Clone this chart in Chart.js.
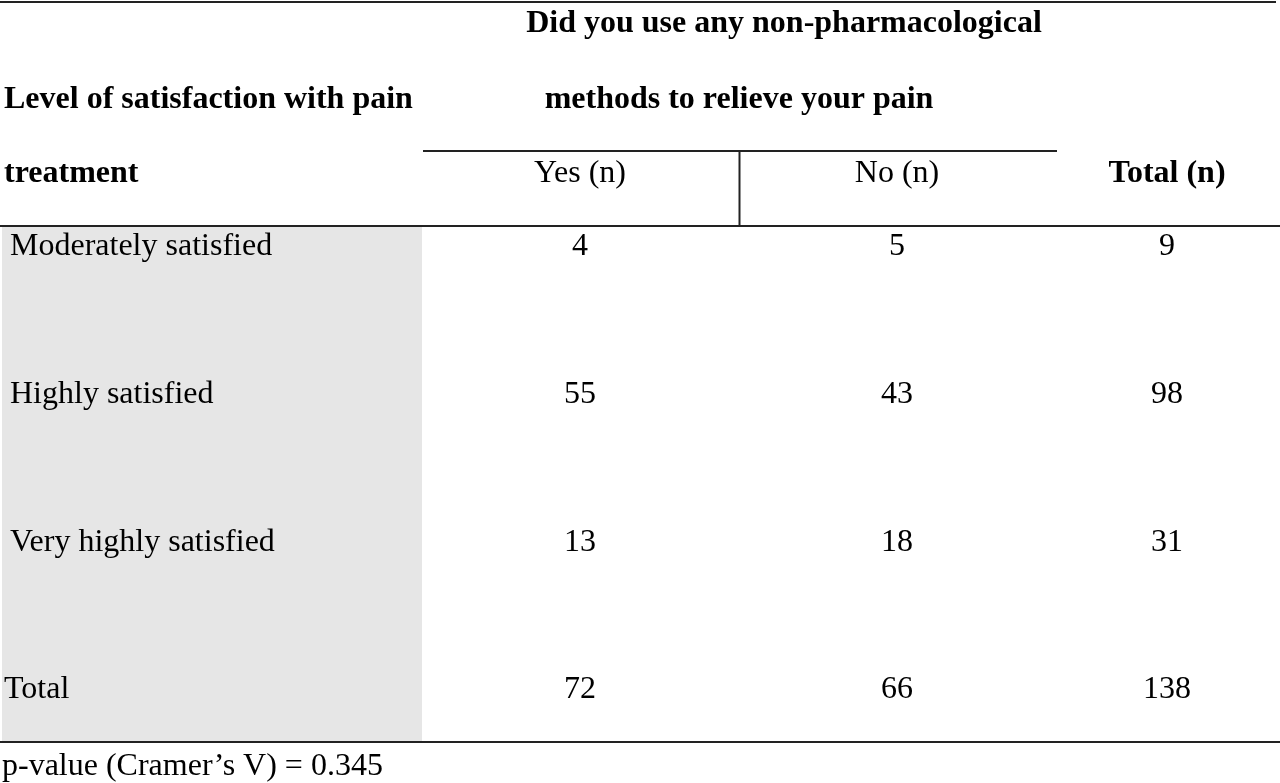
<!DOCTYPE html>
<html>
<head>
<meta charset="utf-8">
<script src="https://cdn.jsdelivr.net/npm/chart.js@4/dist/chart.umd.min.js"></script>
<style>
  html, body { margin: 0; padding: 0; background: #fff; }
  #wrap { width: 1280px; height: 783px; }
</style>
</head>
<body>
<div id="wrap"><canvas id="table"></canvas></div>
<script>
// table content
const rowLabels = ['Moderately satisfied', 'Highly satisfied', 'Very highly satisfied', 'Total'];
const yesCounts = [4, 55, 13, 72];
const noCounts = [5, 43, 18, 66];
const totalCounts = [9, 98, 31, 138];
const columnHeads = ['Yes (n)', 'No (n)', 'Total (n)'];
const groupHead = ['Did you use any non-pharmacological', 'methods to relieve your pain'];
const rowHead = ['Level of satisfaction with pain', 'treatment'];
const footNote = 'p-value (Cramer\u2019s V) = 0.345';

// layout (in scale units, which map 1:1 to the page)
const colX = { label: 10, yes: 580, no: 897, total: 1167 };
const rowY = [247, 395, 543, 690];
const headY = [24, 100, 174];
const FONT = "'Liberation Serif', 'Times New Roman', serif";
const SIZE = 32;

function cells(values, x) {
  return values.map((v, i) => ({ x: x, y: rowY[i], text: String(v) }));
}

const tablePlugin = {
  id: 'tablePlugin',
  beforeDatasetsDraw(chart) {
    const { ctx, scales: { x, y } } = chart;
    ctx.save();
    // grey first column
    ctx.fillStyle = '#e6e6e6';
    ctx.fillRect(x.getPixelForValue(2), y.getPixelForValue(227),
      x.getPixelForValue(422) - x.getPixelForValue(2),
      y.getPixelForValue(741) - y.getPixelForValue(227));

    // rules
    ctx.strokeStyle = '#222';
    ctx.lineWidth = 2;
    const hline = (x0, x1, yy) => {
      ctx.beginPath();
      ctx.moveTo(x.getPixelForValue(x0), y.getPixelForValue(yy));
      ctx.lineTo(x.getPixelForValue(x1), y.getPixelForValue(yy));
      ctx.stroke();
    };
    hline(0, 1276, 2);
    hline(423, 1057, 151);
    hline(0, 1280, 226);
    hline(0, 1280, 742);
    ctx.beginPath();
    ctx.moveTo(x.getPixelForValue(739.5), y.getPixelForValue(151));
    ctx.lineTo(x.getPixelForValue(739.5), y.getPixelForValue(226));
    ctx.stroke();

    // header text
    ctx.fillStyle = '#000';
    ctx.textBaseline = 'middle';
    ctx.font = 'bold ' + SIZE + 'px ' + FONT;
    ctx.textAlign = 'center';
    ctx.fillText(groupHead[0], x.getPixelForValue(784), y.getPixelForValue(headY[0]));
    ctx.fillText(groupHead[1], x.getPixelForValue(739), y.getPixelForValue(headY[1]));
    ctx.fillText(columnHeads[2], x.getPixelForValue(colX.total), y.getPixelForValue(headY[2]));
    ctx.textAlign = 'left';
    ctx.fillText(rowHead[0], x.getPixelForValue(4), y.getPixelForValue(headY[1]));
    ctx.fillText(rowHead[1], x.getPixelForValue(4), y.getPixelForValue(headY[2]));

    ctx.font = SIZE + 'px ' + FONT;
    ctx.textAlign = 'center';
    ctx.fillText(columnHeads[0], x.getPixelForValue(colX.yes), y.getPixelForValue(headY[2]));
    ctx.fillText(columnHeads[1], x.getPixelForValue(colX.no), y.getPixelForValue(headY[2]));

    // row labels
    ctx.textAlign = 'left';
    rowLabels.forEach((lab, i) => {
      const lx = i === rowLabels.length - 1 ? 4 : colX.label;
      ctx.fillText(lab, x.getPixelForValue(lx), y.getPixelForValue(rowY[i]));
    });

    // footnote
    ctx.fillText(footNote, x.getPixelForValue(2), y.getPixelForValue(767));
    ctx.restore();
  },
  afterDatasetsDraw(chart) {
    const { ctx } = chart;
    ctx.save();
    ctx.fillStyle = '#000';
    ctx.font = SIZE + 'px ' + FONT;
    ctx.textAlign = 'center';
    ctx.textBaseline = 'middle';
    chart.data.datasets.forEach((ds, di) => {
      chart.getDatasetMeta(di).data.forEach((pt, i) => {
        ctx.fillText(ds.data[i].text, pt.x, pt.y);
      });
    });
    ctx.restore();
  }
};

new Chart(document.getElementById('table'), {
  type: 'scatter',
  data: {
    datasets: [
      { label: columnHeads[0], data: cells(yesCounts, colX.yes) },
      { label: columnHeads[1], data: cells(noCounts, colX.no) },
      { label: columnHeads[2], data: cells(totalCounts, colX.total) }
    ]
  },
  options: {
    responsive: true,
    maintainAspectRatio: false,
    animation: false,
    layout: { padding: 0 },
    elements: { point: { radius: 0, hoverRadius: 0 } },
    scales: {
      x: { type: 'linear', min: 0, max: 1280, display: false },
      y: { type: 'linear', min: 0, max: 783, reverse: true, display: false }
    },
    plugins: { legend: { display: false }, tooltip: { enabled: false } },
    events: []
  },
  plugins: [tablePlugin]
});
</script>
</body>
</html>
